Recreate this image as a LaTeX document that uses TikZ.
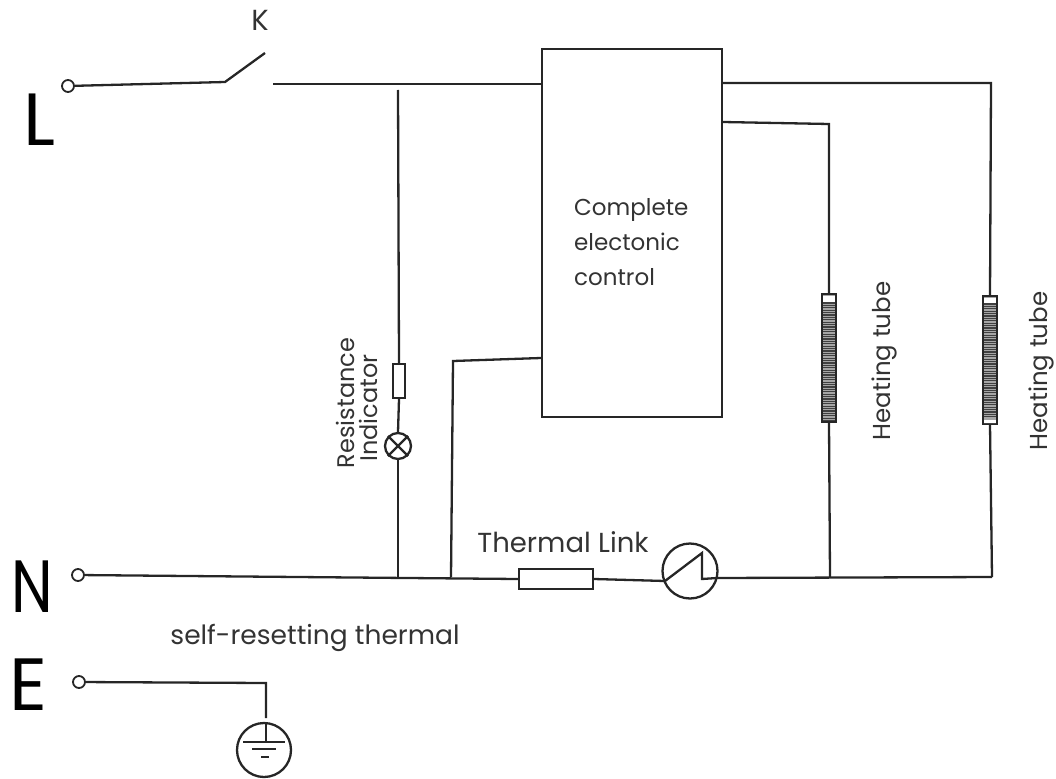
\documentclass[tikz,border=0pt]{standalone}
\usepackage{fontspec}
\setmainfont{Poppins}
\tikzset{
wire/.style={line width=2.3pt,black!85},
term/.style={draw,circle,line width=1.8pt,black!85,minimum size=12pt,inner sep=0pt},
part/.style={draw,rectangle,line width=2.3pt,black!85,inner sep=0pt},
ring/.style={draw,circle,line width=2.3pt,black!85,inner sep=0pt},
lbl/.style={font=\fontsize{24}{27}\selectfont,text=black!80,inner sep=0pt,align=left},
big/.style={font=\fontsize{74}{74}\selectfont,text=black,inner sep=0pt},
}
\begin{document}
\begin{tikzpicture}[x=1pt,y=-1pt]
\useasboundingbox (0,0) rectangle (1056,778);
\path
(225,82) coordinate (KA)
(265,53) coordinate (KB)
(273,84) coordinate (KC)
(398,90) coordinate (RT)
(398,578) coordinate (RB)
(453,361) coordinate (FA)
(451,577) coordinate (FB)
(829,124) coordinate (HA)
(830,577) coordinate (HB)
(991,83) coordinate (HC)
(992,577) coordinate (HD)
(665,581) coordinate (TC)
(702,553) coordinate (TA)
(702,579) coordinate (TB)
(717,578) coordinate (TD)
(266,683) coordinate (EA)
(266,718) coordinate (EB)
(266,742) coordinate (EC);
% terminals
\node[term] (TL) at (68,86) {};
\node[term] (TN) at (78,575) {};
\node[term] (TE) at (79,682) {};
% parts
\node[part,minimum width=180pt,minimum height=368pt] (CT) at (632,233) {};
\node[part,minimum width=12pt,minimum height=34pt] (RS) at (399,381) {};
\node[ring,minimum size=26pt] (LP) at (398,446) {};
\node[part,minimum width=74pt,minimum height=20pt] (FS) at (556,579) {};
\node[ring,minimum size=55pt] (TH) at (690,571) {};
\node[part,fill=black!35,minimum width=14pt,minimum height=128pt] (H1) at (829,358) {};
\node[part,fill=black!35,minimum width=14pt,minimum height=128pt] (H2) at (990,360) {};
\node[ring,minimum size=54pt] (GD) at (264,750) {};
% wires
\draw[wire](TL)--(KA)--(KB);
\draw[wire](KC)--(CT.west|-KC);
\draw[wire](CT.east|-HC)--(HC)--(H2.north);
\draw[wire](CT.east|-0,122)--(HA)--(H1.north);
\draw[wire](H1.south)--(HB);
\draw[wire](H2.south)--(HD);
\draw[wire](RT)--(RS.north);
\draw[wire](RS.south)--(LP.north);
\draw[wire](LP.south)--(RB);
\draw[wire](CT.west|-0,358)--(FA)--(FB);
\draw[wire](TN)--(FS.west);
\draw[wire](FS.east)--(TC);
\draw[wire](TD)--(HD);
\draw[wire](TC)--(TA)--(TB)--(TD);
\draw[wire](TE)--(EA)--(EB);
% lamp cross
\draw[wire](LP.north west)--(LP.south east) (LP.north east)--(LP.south west);
% earth
\draw[wire](GD.north-|EA)--(EC);
\draw[wire](243,742)--(285,742) (252,749)--(276,749) (261,757)--(269,757);
% heater ribs
\fill[white](823.2,296)rectangle(834.8,302) (984.2,298)rectangle(995.8,303) (984.2,420)rectangle(995.8,423);
\foreach \y in {0,...,49}
\draw[line width=1.2pt,black!75](823,303+2.4*\y)--(835,303+2.4*\y);
\foreach \y in {0,...,47}
\draw[line width=1.2pt,black!75](984,304+2.4*\y)--(996,304+2.4*\y);
% labels
\node[lbl,font=\fontsize{29}{30}\selectfont] (LK) at (260,20) {K};
\node[big] (LL) at (39,120) {L};
\node[big,xscale=0.8] (LN) at (32,587) {N};
\node[big] (LE) at (28,685) {E};
\node[lbl,anchor=north west,font=\fontsize{23}{35}\selectfont] (LC) at (574,198) {Complete\\electonic\\control};
\node[lbl,rotate=90] (LR) at (345,403) {Resistance};
\node[lbl,rotate=90] (LI) at (368,408) {Indicator};
\node[lbl,font=\fontsize{24.5}{27}\selectfont,rotate=90] (L1) at (884,361) {Heating tube};
\node[lbl,font=\fontsize{24.5}{27}\selectfont,rotate=90] (L2) at (1041,371) {Heating tube};
\node[lbl,font=\fontsize{27.5}{30}\selectfont] (LT) at (563,542) {Thermal Link};
\node[lbl,font=\fontsize{26.5}{30}\selectfont] (LS) at (315,638) {self-resetting thermal};
\end{tikzpicture}
\end{document}
